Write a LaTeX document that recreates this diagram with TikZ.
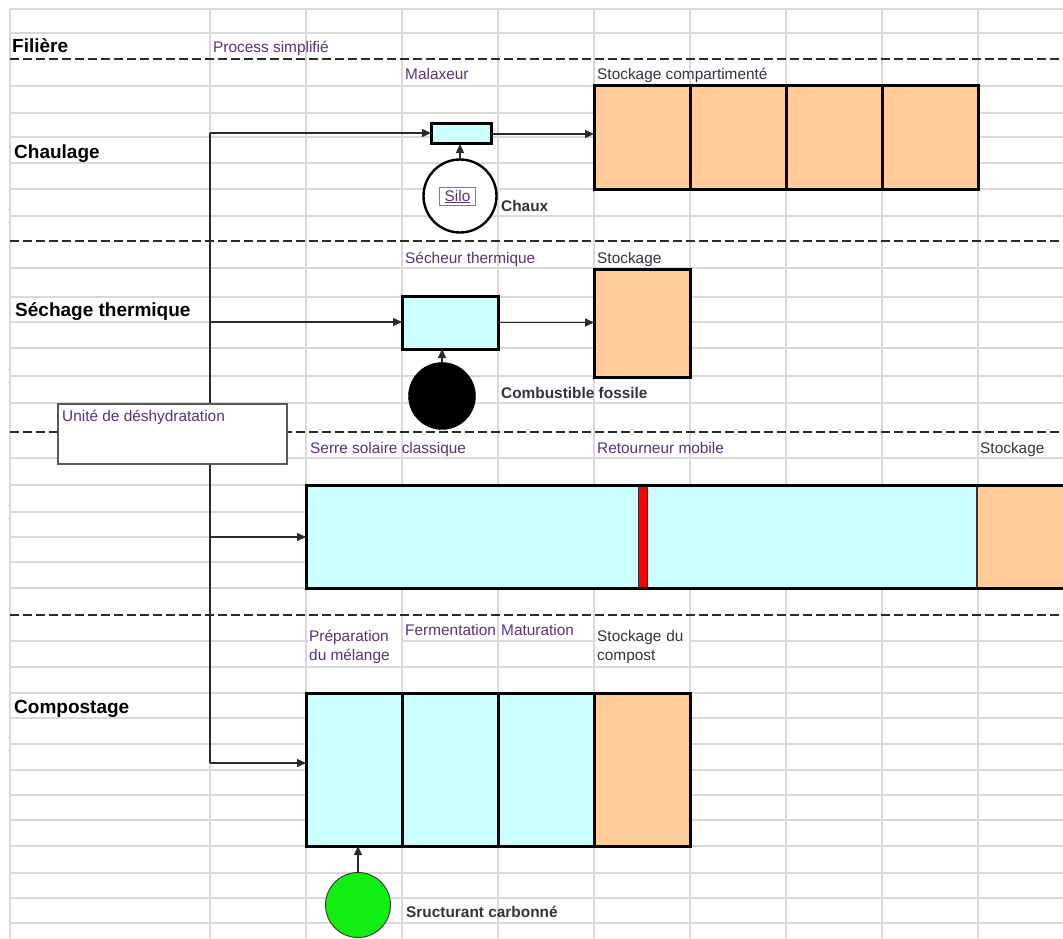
\documentclass[tikz,border=0pt]{standalone}
\usepackage{fontspec}
\setmainfont{Liberation Sans}
\usetikzlibrary{arrows.meta}
\definecolor{cyanf}{HTML}{CCFFFF}
\definecolor{orf}{HTML}{FFCC99}
\definecolor{greenf}{HTML}{11EE11}
\definecolor{purp}{HTML}{5B3275}
\definecolor{darklab}{HTML}{333340}
\definecolor{gridc}{HTML}{D9D9D9}
\definecolor{linec}{HTML}{2A2A2A}
\tikzset{
  gridline/.style={draw=gridc, line width=1.3pt},
  sepline/.style={draw=linec, line width=2.8pt, dash pattern=on 9pt off 4pt},
  trunk/.style={draw=linec, line width=1.5pt},
  arr/.style={draw=linec, line width=1.4pt, -{Triangle[length=9pt,width=8pt]}},
  stepbox/.style={draw=black, line width=3pt, inner sep=0pt, outer sep=0pt, anchor=north west},
  plain/.style={draw=none, inner sep=0pt, outer sep=0pt, anchor=north west},
  lab/.style={inner sep=0pt, anchor=base west, text=purp, font=\fontsize{15.4}{18}\selectfont},
  dlab/.style={inner sep=0pt, anchor=base west, text=darklab, font=\fontsize{15.4}{18}\selectfont},
  blab/.style={inner sep=0pt, anchor=base west, text=darklab, font=\bfseries\fontsize{15.4}{18}\selectfont},
  hlab/.style={inner sep=0pt, anchor=base west, text=black, font=\bfseries\fontsize{19}{22}\selectfont},
}
\begin{document}
\begin{tikzpicture}[x=1pt,y=-1pt]
\useasboundingbox (0,0) rectangle (1063,939);
\clip (0,0) rectangle (1063,939);
\fill[white] (0,0) rectangle (1063,939);
% grid
\foreach \x in {10,210,306,402,498,594,690,786,882,978}
  \draw[gridline] (\x,9) -- (\x,939);
\foreach \y in {9,33,86,113,137,163,189,216,268,297,322,348,376,403,458,485,512,537,562,588,641,667,693,718,744,770,795,820,846,873,898,923}
  \draw[gridline] (10,\y) -- (1063,\y);
% separators
\foreach \y in {59,241,432,615}
  \draw[sepline] (10,\y) -- (1063,\y);

% header
\node[hlab] (filiere) at (12,53) {Filière};
\node[lab] (process) at (213,53) {Process simplifié};

% trunk
\coordinate (j1) at (210,133);
\coordinate (j2) at (210,322);
\coordinate (j3) at (210,537);
\coordinate (j4) at (210,763);
\draw[trunk] (j1) -- (j4);

% Chaulage
\node[hlab] (chaulage) at (14,158) {Chaulage};
\node[lab] (malaxeurlab) at (405,80) {Malaxeur};
\node[dlab] (stockcomplab) at (597,80) {Stockage compartimenté};
\node[stepbox, fill=cyanf, minimum width=60pt, minimum height=20pt] (mal) at (431,124) {};
\node[stepbox, fill=orf, minimum width=96pt, minimum height=103pt] (c1) at (594,86) {};
\node[stepbox, fill=orf, minimum width=96pt, minimum height=103pt] (c2) at (690,86) {};
\node[stepbox, fill=orf, minimum width=96pt, minimum height=103pt] (c3) at (786,86) {};
\node[stepbox, fill=orf, minimum width=96pt, minimum height=103pt] (c4) at (882,86) {};
\node[circle, draw=black, line width=2.4pt, fill=white, minimum size=73pt, inner sep=0pt, outer sep=0pt] (silo) at (460,196) {};
\node[draw=gray, line width=1pt, fill=white, inner xsep=5.5pt, inner ysep=2pt, text=purp, font=\fontsize{15.4}{18}\selectfont] (silotxt) at (457.5,196.5) {\underline{Silo}};
\node[blab] (chaux) at (501,211) {Chaux};
\draw[arr] (j1) -- (j1 -| mal.west);
\draw[arr] (mal.east) -- (mal.east -| c1.west);
\draw[arr] (silo.north) -- (silo.north |- mal.south);

% Sechage thermique
\node[hlab] (sechage) at (15,316) {Séchage thermique};
\node[lab] (secheurlab) at (405,263) {Sécheur thermique};
\node[dlab] (stock2lab) at (597,263) {Stockage};
\node[stepbox, fill=cyanf, minimum width=96pt, minimum height=53pt] (sech) at (402,296) {};
\node[stepbox, fill=orf, minimum width=96pt, minimum height=108pt] (st2) at (594,269) {};
\node[circle, draw=black, fill=black, minimum size=67pt, inner sep=0pt, outer sep=0pt] (fuel) at (442,396) {};
\node[blab] (combust) at (501,398) {Combustible fossile};
\draw[arr] (j2) -- (j2 -| sech.west);
\draw[arr] (sech.east) -- (sech.east -| st2.west);
\draw[arr] (fuel.north) -- (fuel.north |- sech.south);

% Unite de deshydratation
\node[draw=gray!70!black, line width=1.6pt, fill=white, minimum width=229pt, minimum height=60pt, inner sep=0pt, outer sep=0pt, anchor=north west] (unite) at (58,404) {};
\node[lab] (unitelab) at (62,421) {Unité de déshydratation};

% Serre solaire
\node[lab] (serrelab) at (310,453) {Serre solaire classique};
\node[lab] (retourlab) at (597,453) {Retourneur mobile};
\node[dlab] (stock3lab) at (980,453) {Stockage};
\node[plain, fill=cyanf, minimum width=671pt, minimum height=103pt] (serre) at (306,485) {};
\node[plain, fill=orf, minimum width=110pt, minimum height=103pt] (serrest) at (977,485) {};
\draw[draw=gray!40!black, line width=1.2pt] (serrest.north west) -- (serrest.south west);
\node[draw=black!80, line width=0.8pt, fill=red, minimum width=9pt, minimum height=103pt, inner sep=0pt, outer sep=0pt, anchor=north west] (turner) at (638,485) {};
\draw[black, line width=3pt] (serrest.north east) -- (serre.north west) -- (serre.south west) -- (serrest.south east);
\draw[arr] (j3) -- (j3 -| serre.west);

% Compostage
\node[hlab] (compostage) at (14,713) {Compostage};
\fill[white] (307.5,617) rectangle (400.5,666);
\fill[white] (595.5,617) rectangle (688.5,666);
\node[lab] (prep1) at (309,641) {Préparation};
\node[lab] (prep2) at (309,660) {du mélange};
\node[lab] (fermlab) at (405,635) {Fermentation};
\node[lab] (maturlab) at (501,635) {Maturation};
\node[dlab] (stock4a) at (597,641) {Stockage\hspace{5pt}du};
\node[dlab] (stock4b) at (597,660) {compost};
\node[stepbox, fill=cyanf, minimum width=96pt, minimum height=153pt] (p1) at (306,693) {};
\node[stepbox, fill=cyanf, minimum width=96pt, minimum height=153pt] (p2) at (402,693) {};
\node[stepbox, fill=cyanf, minimum width=96pt, minimum height=153pt] (p3) at (498,693) {};
\node[stepbox, fill=orf, minimum width=96pt, minimum height=153pt] (p4) at (594,693) {};
\node[circle, draw=gray!50!black, line width=1pt, fill=greenf, minimum size=65pt, inner sep=0pt, outer sep=0pt] (struct) at (358,905) {};
\node[blab] (structlab) at (406,917) {Sructurant carbonné};
\draw[arr] (j4) -- (j4 -| p1.west);
\draw[arr] (struct.north) -- (struct.north |- p1.south);
\end{tikzpicture}
\end{document}
